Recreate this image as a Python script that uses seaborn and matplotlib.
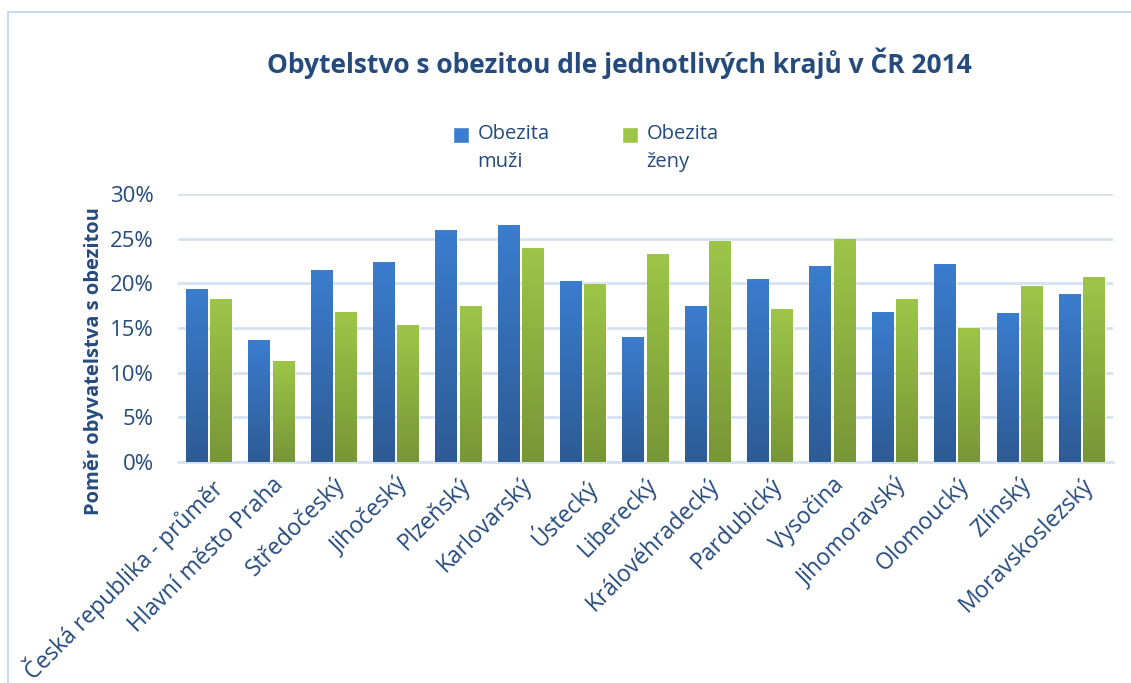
import numpy as np
import pandas as pd
import matplotlib
matplotlib.use("Agg")
import matplotlib.pyplot as plt
import seaborn as sns
from matplotlib.colors import LinearSegmentedColormap
from matplotlib.patches import Rectangle, Patch
from matplotlib.legend_handler import HandlerPatch
from matplotlib.ticker import PercentFormatter

# data (percent)
regions = ["Česká republika - průměr", "Hlavní město Praha", "Středočeský", "Jihočeský",
           "Plzeňský", "Karlovarský", "Ústecký", "Liberecký", "Královéhradecký",
           "Pardubický", "Vysočina", "Jihomoravský", "Olomoucký", "Zlínský",
           "Moravskoslezský"]
muzi = [19.4, 13.6, 21.5, 22.4, 26.0, 26.5, 20.2, 14.0, 17.5, 20.5, 21.9, 16.8, 22.2, 16.7, 18.8]
zeny = [18.2, 11.3, 16.8, 15.3, 17.5, 24.0, 19.9, 23.3, 24.7, 17.1, 25.0, 18.2, 15.0, 19.7, 20.7]
series = ["Obezita\nmuži", "Obezita\nženy"]

df = pd.DataFrame({
    "kraj": regions * 2,
    "podil": muzi + zeny,
    "serie": [series[0]] * len(regions) + [series[1]] * len(regions),
})

text_col = "#254a7c"
grid_col = "#d6e2f1"
blue_top, blue_bot = "#3b7dce", "#2d5b95"
green_top, green_bot = "#9dc648", "#779636"

sns.set_style("white")
plt.rcParams["font.family"] = ["Open Sans", "DejaVu Sans"]

fig = plt.figure(figsize=(11.31, 6.83), dpi=100)
ax = fig.add_axes([0.157, 0.3236, 0.827, 0.3925])

sns.barplot(data=df, x="kraj", y="podil", hue="serie", ax=ax,
            palette=[blue_top, green_top], width=0.78, gap=0.12,
            legend=False, zorder=3)

# vertical gradient fill on each bar, like the original
cmaps = [LinearSegmentedColormap.from_list("b", [blue_bot, blue_top]),
         LinearSegmentedColormap.from_list("g", [green_bot, green_top])]
grad = np.linspace(0, 1, 256).reshape(-1, 1)
for cont, cm in zip(ax.containers, cmaps):
    for bar in cont:
        x0, w, h = bar.get_x(), bar.get_width(), bar.get_height()
        im = ax.imshow(grad, extent=[x0, x0 + w, 0, h], origin="lower",
                       cmap=cm, aspect="auto", zorder=4)
        im.set_clip_path(bar)

ax.set_xlim(-0.5, len(regions) - 0.5)
ax.set_ylim(0, 30)
ax.set_yticks(np.arange(0, 31, 5))
ax.yaxis.set_major_formatter(PercentFormatter(decimals=0))
ax.grid(axis="y", color=grid_col, lw=2, zorder=0)
for s in ["top", "right", "left"]:
    ax.spines[s].set_visible(False)
ax.spines["bottom"].set_color(grid_col)
ax.spines["bottom"].set_linewidth(2)
ax.tick_params(axis="y", length=0, labelsize=16, colors=text_col, pad=17)
ax.tick_params(axis="x", length=0, labelsize=16.5, colors=text_col, pad=8)
ax.set_xticks(range(len(regions)))
ax.set_xticklabels(regions, rotation=45, ha="right", rotation_mode="anchor")
ax.set_xlabel("")
ax.set_ylabel("Poměr obyvatelstva s obezitou", fontsize=14.5, fontweight="bold",
              color=text_col)
ax.yaxis.set_label_coords(-0.079, 0.377)

fig.suptitle("Obytelstvo s obezitou dle jednotlivých krajů v ČR 2014",
             x=0.548, y=0.93, fontsize=19, fontweight="bold", color=text_col)


# legend squares sit next to the first text line, not centred on both lines
def top_square(legend, orig_handle, xdescent, ydescent, width, height, fontsize):
    return Rectangle((-xdescent, -ydescent + 10), width, height)


handles = [Patch(facecolor=blue_top), Patch(facecolor=green_top)]
leg = fig.legend(handles, series, loc="center", bbox_to_anchor=(0.518, 0.783),
                 ncol=2, frameon=False, fontsize=14.5, handlelength=0.8,
                 handleheight=0.8, columnspacing=3.6, handletextpad=0.4,
                 handler_map={Patch: HandlerPatch(patch_func=top_square)})
for t in leg.get_texts():
    t.set_color(text_col)
    t.set_linespacing(1.55)

# outer chart frame (right and bottom edges run off the picture)
fig.patches.append(Rectangle((8 / 1131, -0.05), 1.05, 0.05 + 1 - 12 / 683,
                             transform=fig.transFigure, fill=False,
                             edgecolor="#c9daf0", lw=1.5))

fig.savefig("out.png", dpi=100)
